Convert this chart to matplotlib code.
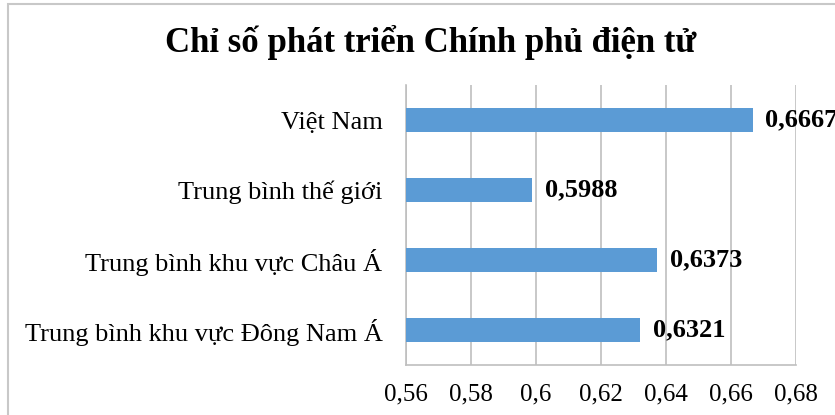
import matplotlib
matplotlib.use("Agg")
import matplotlib.pyplot as plt
from matplotlib.patches import Rectangle

categories = ["Trung bình khu vực Đông Nam Á", "Trung bình khu vực Châu Á",
              "Trung bình thế giới", "Việt Nam"]
values = [0.6321, 0.6373, 0.5988, 0.6667]
value_labels = ["0,6321", "0,6373", "0,5988", "0,6667"]
xticks = [0.56, 0.58, 0.60, 0.62, 0.64, 0.66, 0.68]
xtick_labels = ["0,56", "0,58", "0,6", "0,62", "0,64", "0,66", "0,68"]
title = "Chỉ số phát triển Chính phủ điện tử"

plt.rcParams['font.family'] = ['Liberation Serif', 'DejaVu Serif']

W, H = 835, 415
fig = plt.figure(figsize=(W/100, H/100), dpi=100)
ax = fig.add_axes([406/W, 1-365/H, (796-406)/W, (365-85)/H])

y = list(range(len(categories)))
ax.barh(y, values, height=0.35, color="#5B9BD5", left=0, zorder=3)
ax.set_xlim(0.56, 0.68)
ax.set_ylim(-0.5, 3.5)
ax.set_xticks(xticks)
ax.set_xticklabels(xtick_labels, fontsize=18)
ax.set_yticks(y)
ax.set_yticklabels(categories, fontsize=19)
ax.tick_params(axis='both', length=0)
ax.tick_params(axis='x', pad=13)
ax.tick_params(axis='y', pad=17)
ax.grid(axis='x', color='#BFBFBF', linewidth=1.2, zorder=0)
for s in ['top', 'right']:
    ax.spines[s].set_visible(False)
for s in ['left', 'bottom']:
    ax.spines[s].set_color('#BFBFBF')
    ax.spines[s].set_linewidth(1.2)

for yi, v, lab in zip(y, values, value_labels):
    ax.annotate(lab, (v, yi), xytext=(9, 0), textcoords='offset points',
                va='center', ha='left', fontsize=19, fontweight='bold',
                annotation_clip=False, zorder=4)

fig.text(431/W, 1-42/H, title, ha='center', va='center', fontsize=25,
         fontweight='bold')

fig.patches.append(Rectangle((8/W, -0.1), 1.2, 1-4/H+0.1, transform=fig.transFigure,
                             fill=False, edgecolor='#C8C8C8', linewidth=1.5))

fig.savefig("out.png", dpi=100)
